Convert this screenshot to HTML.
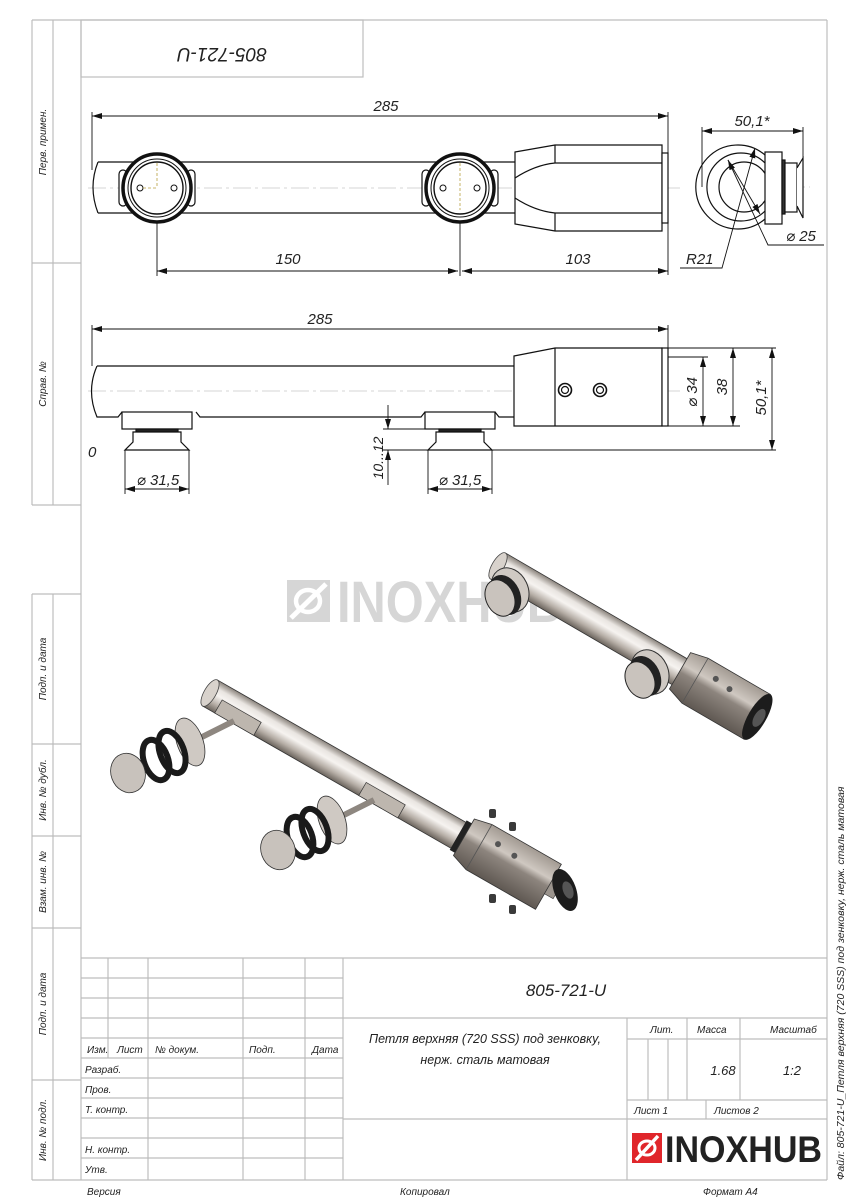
<!DOCTYPE html>
<html><head><meta charset="utf-8"><style>
html,body{margin:0;padding:0;background:#fff;}
svg{display:block;}
.t{font-family:"Liberation Sans","DejaVu Sans",sans-serif;font-style:italic;fill:#222;}
</style></head><body>
<svg width="848" height="1200" viewBox="0 0 848 1200" xmlns="http://www.w3.org/2000/svg">
<defs>
<marker id="a" viewBox="0 0 10 6" refX="10" refY="3" markerWidth="10" markerHeight="6" orient="auto-start-reverse" markerUnits="userSpaceOnUse"><path d="M0,0 L10,3 L0,6 z" fill="#111"/></marker>
<linearGradient id="rod" x1="0" y1="0" x2="0" y2="1">
<stop offset="0" stop-color="#8a837c"/><stop offset="0.25" stop-color="#e9e5e1"/><stop offset="0.45" stop-color="#f6f3f0"/><stop offset="0.75" stop-color="#b5ada5"/><stop offset="1" stop-color="#6a635c"/></linearGradient>
<linearGradient id="head" x1="0" y1="0" x2="0" y2="1">
<stop offset="0" stop-color="#a29a92"/><stop offset="0.35" stop-color="#cfc8c1"/><stop offset="0.5" stop-color="#8d857e"/><stop offset="1" stop-color="#5f5852"/></linearGradient>
</defs>

<!-- frame -->
<g stroke="#bdbdbd" stroke-width="1.2" fill="none">
<line x1="32" y1="20" x2="827" y2="20"/>
<line x1="827" y1="20" x2="827" y2="1180"/>
<line x1="81" y1="20" x2="81" y2="1180"/>
<line x1="32" y1="20" x2="32" y2="505"/>
<line x1="53" y1="20" x2="53" y2="505"/>
<line x1="32" y1="263" x2="81" y2="263"/>
<line x1="32" y1="505" x2="81" y2="505"/>
<line x1="32" y1="594" x2="32" y2="1180"/>
<line x1="53" y1="594" x2="53" y2="1180"/>
<line x1="32" y1="594" x2="81" y2="594"/>
<line x1="32" y1="744" x2="81" y2="744"/>
<line x1="32" y1="836" x2="81" y2="836"/>
<line x1="32" y1="928" x2="81" y2="928"/>
<line x1="32" y1="1080" x2="81" y2="1080"/>
<line x1="32" y1="1180" x2="827" y2="1180"/>
<rect x="81" y="20" width="282" height="57"/>
<line x1="81" y1="958" x2="827" y2="958"/>
<line x1="343" y1="1018" x2="827" y2="1018"/>
<line x1="343" y1="1119" x2="827" y2="1119"/>
<line x1="627" y1="1039" x2="827" y2="1039"/>
<line x1="627" y1="1100" x2="827" y2="1100"/>
<line x1="343" y1="958" x2="343" y2="1180"/>
<line x1="627" y1="1018" x2="627" y2="1180"/>
<line x1="687" y1="1018" x2="687" y2="1100"/>
<line x1="740" y1="1018" x2="740" y2="1100"/>
<line x1="648" y1="1039" x2="648" y2="1100"/>
<line x1="668" y1="1039" x2="668" y2="1100"/>
<line x1="706" y1="1100" x2="706" y2="1119"/>
<line x1="108" y1="958" x2="108" y2="1058"/>
<line x1="148" y1="958" x2="148" y2="1180"/>
<line x1="243" y1="958" x2="243" y2="1180"/>
<line x1="305" y1="958" x2="305" y2="1180"/>
<line x1="81" y1="978" x2="343" y2="978"/>
<line x1="81" y1="998" x2="343" y2="998"/>
<line x1="81" y1="1018" x2="343" y2="1018"/>
<line x1="81" y1="1038" x2="343" y2="1038"/>
<line x1="81" y1="1058" x2="343" y2="1058"/>
<line x1="81" y1="1078" x2="343" y2="1078"/>
<line x1="81" y1="1098" x2="343" y2="1098"/>
<line x1="81" y1="1118" x2="343" y2="1118"/>
<line x1="81" y1="1138" x2="343" y2="1138"/>
<line x1="81" y1="1158" x2="343" y2="1158"/>
</g>

<g class="t" font-size="10">
<text transform="translate(46,142) rotate(-90)" text-anchor="middle">Перв. примен.</text>
<text transform="translate(46,384) rotate(-90)" text-anchor="middle">Справ. №</text>
<text transform="translate(46,669) rotate(-90)" text-anchor="middle">Подп. и дата</text>
<text transform="translate(46,790) rotate(-90)" text-anchor="middle">Инв. № дубл.</text>
<text transform="translate(46,882) rotate(-90)" text-anchor="middle">Взам. инв. №</text>
<text transform="translate(46,1004) rotate(-90)" text-anchor="middle">Подп. и дата</text>
<text transform="translate(46,1130) rotate(-90)" text-anchor="middle">Инв. № подл.</text>
<text transform="translate(844,1180) rotate(-90)" font-size="10.5">Файл: 805-721-U_Петля верхняя (720 SSS) под зенковку, нерж. сталь матовая</text>
</g>
<text class="t" font-size="19" transform="translate(222,48) rotate(180)" text-anchor="middle">805-721-U</text>

<g class="t" font-size="10">
<text x="87" y="1053">Изм.</text><text x="117" y="1053">Лист</text><text x="155" y="1053">№ докум.</text><text x="249" y="1053">Подп.</text><text x="312" y="1053">Дата</text>
<text x="85" y="1073">Разраб.</text><text x="85" y="1093">Пров.</text><text x="85" y="1113">Т. контр.</text>
<text x="85" y="1153">Н. контр.</text><text x="85" y="1173">Утв.</text>
<text x="650" y="1033">Лит.</text><text x="697" y="1033">Масса</text><text x="770" y="1033">Масштаб</text>
<text x="634" y="1114">Лист 1</text><text x="714" y="1114">Листов 2</text>
<text x="87" y="1195">Версия</text><text x="400" y="1195">Копировал</text><text x="703" y="1195">Формат А4</text>
</g>
<text class="t" font-size="17" x="566" y="996" text-anchor="middle">805-721-U</text>
<text class="t" font-size="12.5" x="485" y="1043" text-anchor="middle">Петля верхняя (720 SSS) под зенковку,</text>
<text class="t" font-size="12.5" x="485" y="1064" text-anchor="middle">нерж. сталь матовая</text>
<text class="t" font-size="13" x="723" y="1075" text-anchor="middle">1.68</text>
<text class="t" font-size="13" x="792" y="1075" text-anchor="middle">1:2</text>
<rect x="632" y="1133" width="30" height="30" fill="#e0262b"/>
<ellipse cx="647" cy="1148" rx="8" ry="7" fill="none" stroke="#fff" stroke-width="3"/>
<path d="M636,1160 L658,1136" stroke="#fff" stroke-width="3.5"/>
<text x="665" y="1162" font-family="Liberation Sans,sans-serif" font-weight="bold" font-size="37" fill="#222" textLength="157" lengthAdjust="spacingAndGlyphs">INOXHUB</text>

<rect x="287" y="580" width="43" height="42" fill="#d6d6d6"/>
<ellipse cx="308" cy="601" rx="12" ry="11" fill="none" stroke="#fff" stroke-width="4.5"/>
<path d="M291,618 L326,584" stroke="#fff" stroke-width="5"/>
<text x="337" y="622" font-family="Liberation Sans,sans-serif" font-weight="bold" font-size="58" fill="#d6d6d6" textLength="225" lengthAdjust="spacingAndGlyphs">INOXHUB</text>

<g stroke="#c8c8c8" stroke-width="0.8" stroke-dasharray="18,4,3,4" fill="none">
<line x1="88" y1="188" x2="680" y2="188"/>
<line x1="700" y1="187" x2="810" y2="187"/>
<line x1="88" y1="391" x2="680" y2="391"/>
</g>
<g stroke="#111" stroke-width="1.2" fill="none">
<path d="M98,162 L515,162 M98,213 L515,213 M98,162 Q88,187 98,213"/>
<path d="M515,152 L555,145 L662,145 L662,231 L555,231 L515,224 Z" fill="#fff"/>
<path d="M555,145 L555,163 L662,163 M555,231 L555,213 L662,213 M515,178 Q535,165 555,163 M515,198 Q535,211 555,213"/>
<rect x="662" y="153" width="6" height="70" fill="#fff"/>
</g>
<g fill="#fff" stroke="#111">
<rect x="119" y="170" width="8" height="36" rx="4" stroke-width="1.2"/>
<rect x="187" y="170" width="8" height="36" rx="4" stroke-width="1.2"/>
<circle cx="157" cy="188" r="34" stroke-width="3.5"/>
<circle cx="157" cy="188" r="29" stroke-width="1"/>
<circle cx="157" cy="188" r="26" stroke-width="1.4"/>
<circle cx="140" cy="188" r="3" stroke-width="1"/>
<circle cx="174" cy="188" r="3" stroke-width="1"/>
<rect x="422" y="170" width="8" height="36" rx="4" stroke-width="1.2"/>
<rect x="490" y="170" width="8" height="36" rx="4" stroke-width="1.2"/>
<circle cx="460" cy="188" r="34" stroke-width="3.5"/>
<circle cx="460" cy="188" r="29" stroke-width="1"/>
<circle cx="460" cy="188" r="26" stroke-width="1.4"/>
<circle cx="443" cy="188" r="3" stroke-width="1"/>
<circle cx="477" cy="188" r="3" stroke-width="1"/>
</g>
<g stroke="#b8a040" stroke-width="0.8" stroke-dasharray="3,2"><line x1="157" y1="163" x2="157" y2="188"/><line x1="143" y1="188" x2="157" y2="188"/><line x1="460" y1="163" x2="460" y2="210"/></g>
<g stroke="#111" stroke-width="1.2" fill="#fff">
<path d="M765,155 A42,42 0 1 0 765,219"/>
<path d="M765,163 A34,34 0 1 0 765,211"/>
<circle cx="744" cy="187" r="25"/>
<rect x="765" y="152" width="17" height="72"/>
<rect x="782" y="160" width="3" height="54" fill="#333"/>
<rect x="785" y="163" width="12" height="49"/>
<path d="M797,168 L803,158 L803,218 L797,206" fill="#fff"/>
</g>
<g stroke="#111" stroke-width="0.9" fill="none">
<line x1="92" y1="116" x2="668" y2="116" marker-start="url(#a)" marker-end="url(#a)"/>
<line x1="92" y1="112" x2="92" y2="170"/>
<line x1="668" y1="112" x2="668" y2="275"/>
<line x1="157" y1="222" x2="157" y2="276"/>
<line x1="460" y1="222" x2="460" y2="276"/>
<line x1="157" y1="271" x2="458" y2="271" marker-start="url(#a)" marker-end="url(#a)"/>
<line x1="462" y1="271" x2="668" y2="271" marker-start="url(#a)" marker-end="url(#a)"/>
<line x1="702" y1="131" x2="803" y2="131" marker-start="url(#a)" marker-end="url(#a)"/>
<line x1="702" y1="127" x2="702" y2="187"/>
<line x1="803" y1="127" x2="803" y2="160"/>
<path d="M680,268 L722,268 L755,148" marker-end="url(#a)"/>
<path d="M824,245 L768,245 L728,160" marker-end="url(#a)"/>
<line x1="760" y1="214" x2="728" y2="160" marker-start="url(#a)"/>
</g>
<g class="t" font-size="15">
<text x="386" y="111" text-anchor="middle">285</text>
<text x="288" y="264" text-anchor="middle">150</text>
<text x="578" y="264" text-anchor="middle">103</text>
<text x="752" y="126" text-anchor="middle">50,1*</text>
<text x="686" y="264">R21</text>
<text x="786" y="241">⌀ 25</text>
</g>

<g stroke="#111" stroke-width="1.2" fill="#fff">
<path d="M97,366 L514,366 M97,366 Q86,391 97,417 L118,417 L122,412 M196,412 L200,417 L421,417 L425,412 M495,412 L499,417 L514,417" fill="none"/>
<path d="M514,356 L555,348 L662,348 L662,426 L514,426 Z"/>
<line x1="555" y1="348" x2="555" y2="426"/>
<rect x="662" y="348" width="6" height="78"/>
<circle cx="565" cy="390" r="6.5" stroke-width="1.6"/><circle cx="565" cy="390" r="3.5"/>
<circle cx="600" cy="390" r="6.5" stroke-width="1.6"/><circle cx="600" cy="390" r="3.5"/>
<rect x="122" y="412" width="70" height="17"/>
<rect x="136" y="429" width="42" height="3" fill="#222"/>
<path d="M133,432 L181,432 L181,442 L189,450 L125,450 L133,442 Z"/>
<rect x="425" y="412" width="70" height="17"/>
<rect x="439" y="429" width="42" height="3" fill="#222"/>
<path d="M436,432 L484,432 L484,442 L492,450 L428,450 L436,442 Z"/>
</g>
<g stroke="#111" stroke-width="0.9" fill="none">
<line x1="92" y1="329" x2="668" y2="329" marker-start="url(#a)" marker-end="url(#a)"/>
<line x1="92" y1="325" x2="92" y2="366"/>
<line x1="668" y1="325" x2="668" y2="348"/>
<line x1="125" y1="450" x2="125" y2="494"/><line x1="189" y1="450" x2="189" y2="494"/>
<line x1="125" y1="489" x2="189" y2="489" marker-start="url(#a)" marker-end="url(#a)"/>
<line x1="428" y1="450" x2="428" y2="494"/><line x1="492" y1="450" x2="492" y2="494"/>
<line x1="428" y1="489" x2="492" y2="489" marker-start="url(#a)" marker-end="url(#a)"/>
<line x1="383" y1="429" x2="425" y2="429"/>
<line x1="383" y1="450" x2="776" y2="450"/>
<line x1="388" y1="405" x2="388" y2="429" marker-end="url(#a)"/>
<line x1="388" y1="485" x2="388" y2="450" marker-end="url(#a)"/>
<line x1="668" y1="357" x2="708" y2="357"/>
<line x1="668" y1="348" x2="776" y2="348"/>
<line x1="668" y1="426" x2="740" y2="426"/>
<line x1="703" y1="357" x2="703" y2="426" marker-start="url(#a)" marker-end="url(#a)"/>
<line x1="733" y1="348" x2="733" y2="426" marker-start="url(#a)" marker-end="url(#a)"/>
<line x1="772" y1="348" x2="772" y2="450" marker-start="url(#a)" marker-end="url(#a)"/>
</g>
<g class="t" font-size="15">
<text x="320" y="324" text-anchor="middle">285</text>
<text x="158" y="485" text-anchor="middle">⌀ 31,5</text>
<text x="460" y="485" text-anchor="middle">⌀ 31,5</text>
<text x="88" y="457">0</text>
<text transform="translate(383,458) rotate(-90)" text-anchor="middle" font-size="14">10...12</text>
<text transform="translate(697,392) rotate(-90)" text-anchor="middle">⌀ 34</text>
<text transform="translate(727,387) rotate(-90)" text-anchor="middle">38</text>
<text transform="translate(766,398) rotate(-90)" text-anchor="middle">50,1*</text>
</g>

<g transform="translate(498,566) rotate(30.2)">
<rect x="0" y="-15" width="215" height="30" fill="url(#rod)" stroke="#333" stroke-width="0.8"/>
<ellipse cx="0" cy="0" rx="6" ry="15" fill="#d8d2cc" stroke="#444" stroke-width="0.8"/>
<path d="M210,-22 L228,-26 L300,-26 L300,26 L228,26 L210,20 Z" fill="url(#head)" stroke="#333" stroke-width="0.8"/>
<line x1="228" y1="-26" x2="228" y2="26" stroke="#555" stroke-width="0.8"/>
<ellipse cx="300" cy="0" rx="9" ry="26" fill="#1c1c1c"/>
<ellipse cx="302" cy="0" rx="5" ry="10" fill="#555"/>
<circle cx="245" cy="-12" r="3" fill="#555"/><circle cx="262" cy="-10" r="3" fill="#555"/>
</g>
<ellipse cx="510" cy="590" rx="18" ry="23" transform="rotate(-25 510 590)" fill="#cfc9c3" stroke="#333"/>
<ellipse cx="505" cy="595" rx="15" ry="21" transform="rotate(-25 505 595)" fill="#222"/>
<ellipse cx="500" cy="598" rx="14" ry="19" transform="rotate(-25 500 598)" fill="#c9c3bd" stroke="#222"/>
<ellipse cx="650" cy="672" rx="18" ry="23" transform="rotate(-25 650 672)" fill="#cfc9c3" stroke="#333"/>
<ellipse cx="645" cy="676" rx="15" ry="21" transform="rotate(-25 645 676)" fill="#222"/>
<ellipse cx="640" cy="680" rx="14" ry="19" transform="rotate(-25 640 680)" fill="#c9c3bd" stroke="#222"/>

<g transform="translate(210,693) rotate(29.8)">
<rect x="0" y="-15" width="292" height="30" fill="url(#rod)" stroke="#333" stroke-width="0.8"/>
<ellipse cx="0" cy="0" rx="6" ry="15" fill="#d8d2cc" stroke="#444" stroke-width="0.8"/>
<rect x="14" y="0" width="45" height="15" fill="#bdb6ae" stroke="#333" stroke-width="0.7"/>
<rect x="180" y="0" width="45" height="15" fill="#bdb6ae" stroke="#333" stroke-width="0.7"/>
<rect x="286" y="-17" width="8" height="34" fill="#222"/>
<path d="M292,-22 L310,-26 L390,-26 L390,26 L310,26 L292,20 Z" fill="url(#head)" stroke="#333" stroke-width="0.8"/>
<line x1="310" y1="-26" x2="310" y2="26" stroke="#555" stroke-width="0.8"/>
<circle cx="325" cy="-12" r="3" fill="#555"/><circle cx="345" cy="-10" r="3" fill="#555"/>
<rect x="390" y="-8" width="10" height="16" fill="#9b948d" stroke="#333" stroke-width="0.6"/>
</g>
<ellipse cx="565" cy="890" rx="11" ry="22" transform="rotate(-20 565 890)" fill="#1c1c1c"/>
<ellipse cx="568" cy="890" rx="5" ry="9" transform="rotate(-20 568 890)" fill="#555"/>
<g stroke="#333" stroke-width="0.8">
<line x1="234" y1="721" x2="196" y2="740" stroke="#8e8780" stroke-width="6"/>
<line x1="374" y1="800" x2="340" y2="817" stroke="#8e8780" stroke-width="6"/>
<ellipse cx="190" cy="742" rx="13" ry="25" transform="rotate(-20 190 742)" fill="#cfc9c3"/>
<ellipse cx="172" cy="752" rx="12" ry="22" transform="rotate(-20 172 752)" fill="none" stroke="#1a1a1a" stroke-width="6"/>
<ellipse cx="156" cy="760" rx="12" ry="21" transform="rotate(-20 156 760)" fill="none" stroke="#1a1a1a" stroke-width="6"/>
<ellipse cx="128" cy="773" rx="17" ry="20" transform="rotate(-20 128 773)" fill="#c8c2bc"/>
<ellipse cx="332" cy="820" rx="13" ry="25" transform="rotate(-20 332 820)" fill="#cfc9c3"/>
<ellipse cx="315" cy="830" rx="12" ry="22" transform="rotate(-20 315 830)" fill="none" stroke="#1a1a1a" stroke-width="6"/>
<ellipse cx="300" cy="837" rx="12" ry="21" transform="rotate(-20 300 837)" fill="none" stroke="#1a1a1a" stroke-width="6"/>
<ellipse cx="278" cy="850" rx="17" ry="20" transform="rotate(-20 278 850)" fill="#c8c2bc"/>
</g>
<g fill="#3a3a3a">
<rect x="489" y="809" width="7" height="9" rx="2"/><rect x="509" y="822" width="7" height="9" rx="2"/>
<rect x="489" y="894" width="7" height="9" rx="2"/><rect x="509" y="905" width="7" height="9" rx="2"/>
</g>
</svg>
</body></html>
